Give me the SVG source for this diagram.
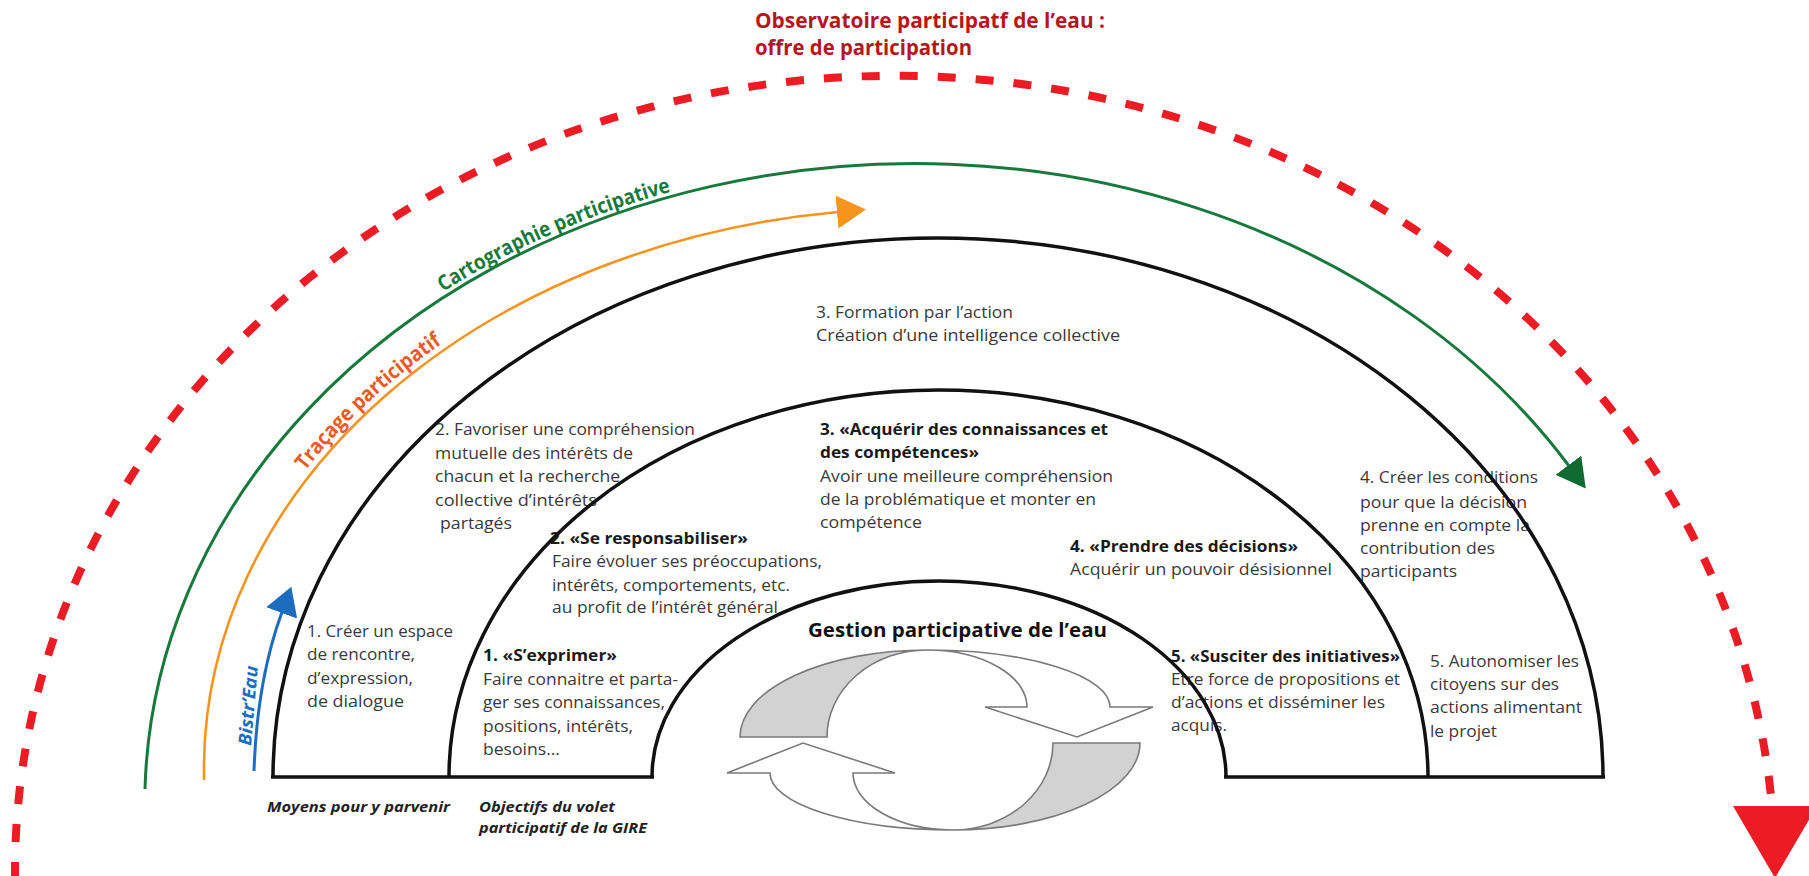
<svg xmlns="http://www.w3.org/2000/svg" width="1809" height="876" viewBox="0 0 1809 876">
<style>
text{font-family:'Open Sans','Liberation Sans',sans-serif}
.b{font-size:16.5px;fill:#3a3a3a}
.h{font-size:16.5px;font-weight:bold;fill:#1a1a1a}
.lab{font-size:15px;font-weight:bold;font-style:italic;fill:#222}
.title{font-size:21px;font-weight:bold;fill:#b8141f}
.arc{fill:none;stroke:#111;stroke-width:3.5}
.gray{fill:#d2d2d2;stroke:#7a7a7a;stroke-width:1.6}
.white{fill:#fff;stroke:#7a7a7a;stroke-width:1.6}
</style>
<defs>
<marker id="mGreen" markerUnits="userSpaceOnUse" viewBox="0 0 29 32" refX="1" refY="16" markerWidth="29" markerHeight="32" orient="auto"><path d="M0,0 L29,16 L0,32 Z" fill="#0f6b31"/></marker>
<marker id="mOrange" markerUnits="userSpaceOnUse" viewBox="0 0 29 33" refX="1" refY="16.5" markerWidth="29" markerHeight="33" orient="auto"><path d="M0,0 L29,16.5 L0,33 Z" fill="#f7941d"/></marker>
<marker id="mBlue" markerUnits="userSpaceOnUse" viewBox="0 0 28 33" refX="1" refY="16.5" markerWidth="28" markerHeight="33" orient="auto"><path d="M0,0 L28,16.5 L0,33 Z" fill="#1c6dbf"/></marker>
<path id="pCarto" d="M443,292 A776,646 0 0 1 760,172"/>
<path id="pTracage" d="M305,471 A722,566 0 0 1 470,325"/>
</defs>
<rect width="1809" height="876" fill="#fff"/>

<g id="title">
<text class="title" x="755" y="28" textLength="350" lengthAdjust="spacingAndGlyphs">Observatoire participatf de l’eau :</text>
<text class="title" x="755" y="55" textLength="217" lengthAdjust="spacingAndGlyphs">offre de participation</text>
</g>

<g id="connectors">
<path id="redDashed" d="M15,880 L15,871 A880,796 0 0 1 1771,796" fill="none" stroke="#ed1c24" stroke-width="8" stroke-dasharray="18 20"/>
<polygon points="1733,806 1817,806 1775,878" fill="#ed1c24"/>
<path id="greenArc" d="M145,789 A770,640 0 0 1 1569,466" fill="none" stroke="#177a3c" stroke-width="3" marker-end="url(#mGreen)"/>
<path id="orangeArc" d="M204,780 L204,768 A716,560 0 0 1 838,212" fill="none" stroke="#f7941d" stroke-width="2.6" marker-end="url(#mOrange)"/>
<path id="blueArrow" d="M254,771 Q257,680 282,612" fill="none" stroke="#1c6dbf" stroke-width="3" marker-end="url(#mBlue)"/>
</g>

<g id="labels-curved">
<text font-size="21" font-weight="bold" fill="#177a3c"><textPath href="#pCarto" textLength="250" lengthAdjust="spacingAndGlyphs">Cartographie participative</textPath></text>
<text font-size="21" font-weight="bold" fill="#ea5b25"><textPath href="#pTracage" textLength="188" lengthAdjust="spacingAndGlyphs">Traçage participatif</textPath></text>
<text transform="translate(251,746) rotate(-85)" font-size="18" font-weight="bold" font-style="italic" fill="#1c6dbf" textLength="80" lengthAdjust="spacingAndGlyphs">Bistr’Eau</text>
</g>

<g id="means">
<g id="m1">
<text class="b" x="307" y="637" textLength="146" lengthAdjust="spacingAndGlyphs">1. Créer un espace</text>
<text class="b" x="307" y="660" textLength="108" lengthAdjust="spacingAndGlyphs">de rencontre,</text>
<text class="b" x="307" y="684" textLength="106" lengthAdjust="spacingAndGlyphs">d’expression,</text>
<text class="b" x="307" y="707" textLength="97" lengthAdjust="spacingAndGlyphs">de dialogue</text>
</g>
<g id="m2">
<text class="b" x="435" y="435" textLength="260" lengthAdjust="spacingAndGlyphs">2. Favoriser une compréhension</text>
<text class="b" x="435" y="459" textLength="198" lengthAdjust="spacingAndGlyphs">mutuelle des intérêts de</text>
<text class="b" x="435" y="482" textLength="185" lengthAdjust="spacingAndGlyphs">chacun et la recherche</text>
<text class="b" x="435" y="506" textLength="162" lengthAdjust="spacingAndGlyphs">collective d’intérêts</text>
<text class="b" x="440" y="529" textLength="72" lengthAdjust="spacingAndGlyphs">partagés</text>
</g>
<g id="m3">
<text class="b" x="816" y="318" textLength="197" lengthAdjust="spacingAndGlyphs">3. Formation par l’action</text>
<text class="b" x="816" y="341" textLength="304" lengthAdjust="spacingAndGlyphs">Création d’une intelligence collective</text>
</g>
<g id="m4">
<text class="b" x="1360" y="483" textLength="178" lengthAdjust="spacingAndGlyphs">4. Créer les conditions</text>
<text class="b" x="1360" y="508" textLength="167" lengthAdjust="spacingAndGlyphs">pour que la décision</text>
<text class="b" x="1360" y="531" textLength="170" lengthAdjust="spacingAndGlyphs">prenne en compte la</text>
<text class="b" x="1360" y="554" textLength="135" lengthAdjust="spacingAndGlyphs">contribution des</text>
<text class="b" x="1360" y="577" textLength="97" lengthAdjust="spacingAndGlyphs">participants</text>
</g>
<g id="m5">
<text class="b" x="1430" y="667" textLength="149" lengthAdjust="spacingAndGlyphs">5. Autonomiser les</text>
<text class="b" x="1430" y="690" textLength="129" lengthAdjust="spacingAndGlyphs">citoyens sur des</text>
<text class="b" x="1430" y="713" textLength="152" lengthAdjust="spacingAndGlyphs">actions alimentant</text>
<text class="b" x="1430" y="737" textLength="67" lengthAdjust="spacingAndGlyphs">le projet</text>
</g>
</g>

<g id="objectives">
<g id="o1">
<text class="h" x="483" y="661" textLength="134" lengthAdjust="spacingAndGlyphs">1. «S’exprimer»</text>
<text class="b" x="483" y="685" textLength="195" lengthAdjust="spacingAndGlyphs">Faire connaitre et parta-</text>
<text class="b" x="483" y="708" textLength="182" lengthAdjust="spacingAndGlyphs">ger ses connaissances,</text>
<text class="b" x="483" y="732" textLength="150" lengthAdjust="spacingAndGlyphs">positions, intérêts,</text>
<text class="b" x="483" y="755" textLength="77" lengthAdjust="spacingAndGlyphs">besoins...</text>
</g>
<g id="o2">
<text class="h" x="550" y="544" textLength="198" lengthAdjust="spacingAndGlyphs">2. «Se responsabiliser»</text>
<text class="b" x="552" y="567" textLength="270" lengthAdjust="spacingAndGlyphs">Faire évoluer ses préoccupations,</text>
<text class="b" x="552" y="591" textLength="238" lengthAdjust="spacingAndGlyphs">intérêts, comportements, etc.</text>
<text class="b" x="552" y="613" textLength="226" lengthAdjust="spacingAndGlyphs">au profit de l’intérêt général</text>
</g>
<g id="o3">
<text class="h" x="820" y="435" textLength="288" lengthAdjust="spacingAndGlyphs">3. «Acquérir des connaissances et</text>
<text class="h" x="820" y="458" textLength="159" lengthAdjust="spacingAndGlyphs">des compétences»</text>
<text class="b" x="820" y="482" textLength="293" lengthAdjust="spacingAndGlyphs">Avoir une meilleure compréhension</text>
<text class="b" x="820" y="505" textLength="276" lengthAdjust="spacingAndGlyphs">de la problématique et monter en</text>
<text class="b" x="820" y="528" textLength="102" lengthAdjust="spacingAndGlyphs">compétence</text>
</g>
<g id="o4">
<text class="h" x="1070" y="552" textLength="228" lengthAdjust="spacingAndGlyphs">4. «Prendre des décisions»</text>
<text class="b" x="1070" y="575" textLength="262" lengthAdjust="spacingAndGlyphs">Acquérir un pouvoir désisionnel</text>
</g>
<g id="o5">
<text class="h" x="1171" y="662" textLength="229" lengthAdjust="spacingAndGlyphs">5. «Susciter des initiatives»</text>
<text class="b" x="1171" y="685" textLength="229" lengthAdjust="spacingAndGlyphs">Etre force de propositions et</text>
<text class="b" x="1171" y="708" textLength="214" lengthAdjust="spacingAndGlyphs">d’actions et disséminer les</text>
<text class="b" x="1171" y="731" textLength="56" lengthAdjust="spacingAndGlyphs">acquis.</text>
</g>
</g>

<g id="rings">
<path class="arc" d="M273,777 A665,539 0 0 1 1603,777"/>
<path class="arc" d="M449,777 A489.5,387 0 0 1 1428,777"/>
<path class="arc" d="M652,777 A287,196 0 0 1 1226,777"/>
<path class="arc" d="M271,777 L654,777 M1224,777 L1605,777"/>
</g>

<g id="gestion">
<text x="808" y="637" font-size="20" font-weight="bold" fill="#111" textLength="299" lengthAdjust="spacingAndGlyphs">Gestion participative de l’eau</text>
<g id="cycleTop">
<path class="gray" d="M740,737 A187,87 0 0 1 927,650 A100,87 0 0 0 827,737 Z"/>
<path class="white" d="M927,650 A183,57 0 0 1 1110,707 L1153,707 L1077,737 L985,707 L1027,707 A100,57 0 0 0 927,650 Z"/>
</g>
<g id="cycleBottom" transform="rotate(180 940 740)">
<path class="gray" d="M740,737 A187,87 0 0 1 927,650 A100,87 0 0 0 827,737 Z"/>
<path class="white" d="M927,650 A183,57 0 0 1 1110,707 L1153,707 L1077,737 L985,707 L1027,707 A100,57 0 0 0 927,650 Z"/>
</g>
</g>

<g id="bottomLabels">
<text class="lab" x="267" y="812" textLength="183" lengthAdjust="spacingAndGlyphs">Moyens pour y parvenir</text>
<text class="lab" x="479" y="812" textLength="136" lengthAdjust="spacingAndGlyphs">Objectifs du volet</text>
<text class="lab" x="479" y="833" textLength="168" lengthAdjust="spacingAndGlyphs">participatif de la GIRE</text>
</g>
</svg>
